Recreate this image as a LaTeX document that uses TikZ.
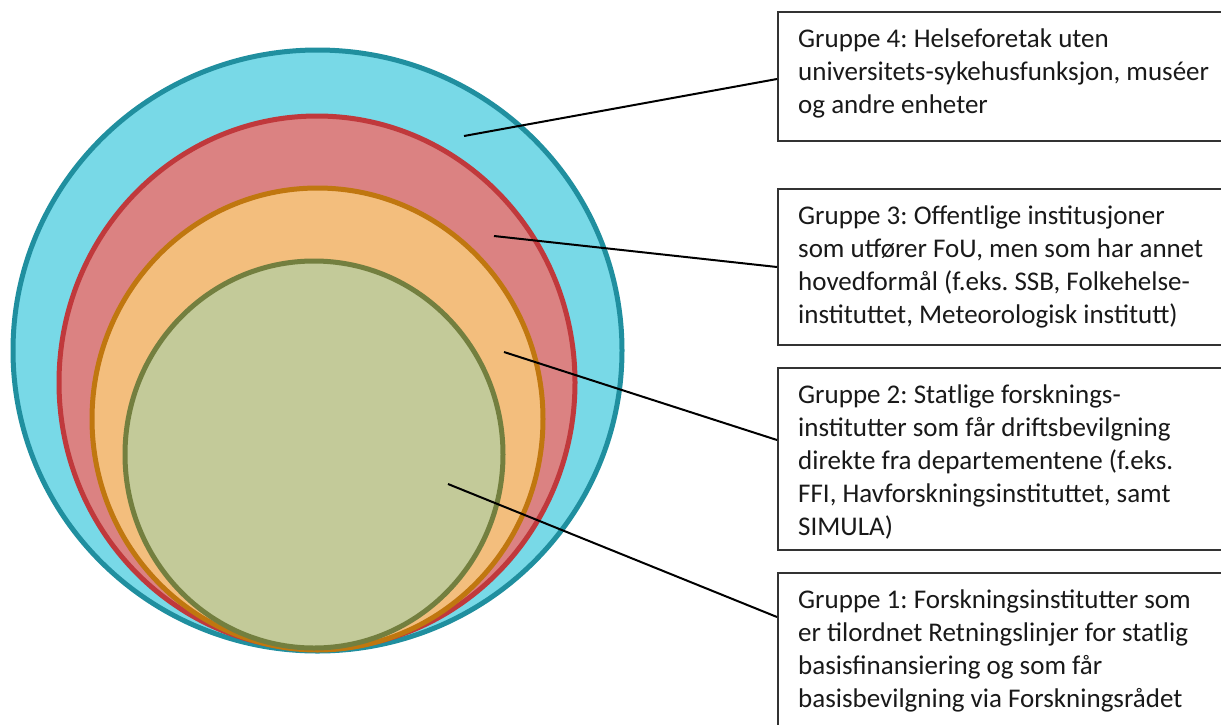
\documentclass[tikz,border=0pt]{standalone}
\usepackage{fontspec}
\setmainfont{Carlito}
\usetikzlibrary{calc}
\definecolor{bluefill}{HTML}{78D9E7}
\definecolor{blueline}{HTML}{208F9F}
\definecolor{redfill}{HTML}{DB8282}
\definecolor{redline}{HTML}{C0393C}
\definecolor{orangefill}{HTML}{F3BE7D}
\definecolor{orangeline}{HTML}{C0770F}
\definecolor{greenfill}{HTML}{C3CA99}
\definecolor{greenline}{HTML}{737F3F}
\tikzstyle{ring}=[line width=5pt]
\tikzstyle{grp}=[draw=black!80,fill=white,line width=1.5pt,anchor=north west,minimum width=450pt,inner sep=0pt]
\tikzstyle{txt}=[anchor=base west,align=left,inner sep=0pt,text=black!90,font=\fontsize{27}{33}\selectfont\frenchspacing]
\tikzstyle{lead}=[line width=2pt,black]

\begin{document}
\begin{tikzpicture}[x=1pt,y=-1pt]
\useasboundingbox (0,0) rectangle (1221,724);
\clip (0,0) rectangle (1221,724);
\fill[black!20] (314,458.5) ellipse [x radius=189,y radius=193.5];
\draw[ring,draw=blueline,fill=bluefill] (317.5,350.5) ellipse [x radius=304.5,y radius=300.5];
\draw[ring,draw=redline,fill=redfill] (317,382.5) ellipse [x radius=258,y radius=266.5];
\draw[ring,draw=orangeline,fill=orangefill] (317.5,419) ellipse [x radius=225.5,y radius=231];
\draw[ring,draw=greenline,fill=greenfill] (314,454.5) ellipse [x radius=189,y radius=193.5];

\coordinate (p4) at (464,136);
\coordinate (p3) at (494,236);
\coordinate (p2) at (504,352);
\coordinate (p1) at (448,484);

\node[grp,minimum height=129pt] (g4) at (777,11) {};
\node[grp,minimum height=156pt] (g3) at (777,188) {};
\node[grp,minimum height=182pt] (g2) at (777,367) {};
\node[grp,minimum height=170pt] (g1) at (777,572) {};

% base of a text node is its last line
\node[txt] (t4) at ($(g4.north west)+(21,102)$) {Gruppe 4: Helseforetak uten\\universitets-sykehusfunksjon, muséer\\og andre enheter};
\node[txt] (t3) at ($(g3.north west)+(21,135)$) {Gruppe 3: Offentlige institusjoner\\som utfører FoU, men som har annet\\hovedformål (f.eks. SSB, Folkehelse-\\instituttet, Meteorologisk institutt)};
\node[txt] (t2) at ($(g2.north west)+(21,168)$) {Gruppe 2: Statlige forsknings-\\institutter som får driftsbevilgning\\direkte fra departementene (f.eks.\\FFI, Havforskningsinstituttet, samt\\SIMULA)};
\node[txt] (t1) at ($(g1.north west)+(21,135)$) {Gruppe 1: Forskningsinstitutter som\\er tilordnet Retningslinjer for statlig\\basisfinansiering og som får\\basisbevilgning via Forskningsrådet};

\draw[lead] (p4) -- ([yshift=-68pt]g4.north west);
\draw[lead] (p3) -- ([yshift=-79pt]g3.north west);
\draw[lead] (p2) -- ([yshift=-73pt]g2.north west);
\draw[lead] (p1) -- ([yshift=-45pt]g1.north west);
\end{tikzpicture}
\end{document}
